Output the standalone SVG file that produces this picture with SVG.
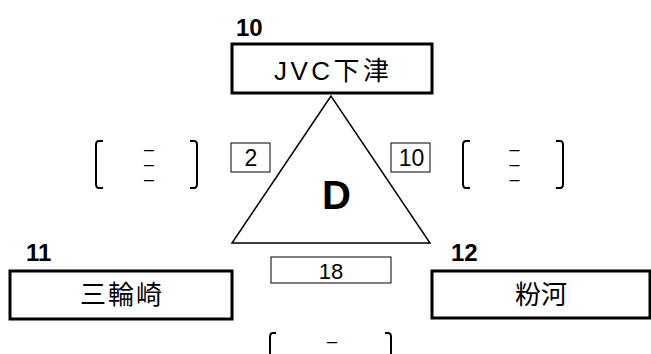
<svg xmlns="http://www.w3.org/2000/svg" width="651" height="354" viewBox="0 0 651 354">
<style>
.box{fill:#fff;stroke:#000;stroke-width:3}
.sbox{fill:#fff;stroke:#000;stroke-width:1}
.t{font-family:"Liberation Sans","Noto Sans CJK JP",sans-serif;fill:#000}
.num{font-family:"Liberation Sans","Noto Sans CJK JP",sans-serif;font-weight:bold;font-size:24px;fill:#000}
.br{fill:none;stroke:#000;stroke-width:2}
.dash{font-family:"Liberation Sans",sans-serif;font-size:10px;font-weight:bold;fill:#000;text-anchor:middle}
</style>
<rect width="651" height="354" fill="#fff"/>
<g id="triangle">
<polygon points="331,96 232,243 430,243" fill="#fff" stroke="#000" stroke-width="1.5"/>
<text class="t" x="336.5" y="209" font-size="40" font-weight="bold" text-anchor="middle">D</text>
</g>
<g id="node10">
<rect class="box" x="232" y="44" width="200" height="49"/>
<text class="num" x="236" y="36">10</text>
<text class="t" x="274" y="80" font-size="26" textLength="115" lengthAdjust="spacing">JVC下津</text>
</g>
<g id="node11">
<rect class="box" x="10" y="271" width="222" height="48"/>
<text class="num" x="26" y="261">11</text>
<text class="t" x="80" y="304" font-size="26" textLength="82" lengthAdjust="spacing">三輪崎</text>
</g>
<g id="node12">
<rect class="box" x="432" y="271" width="218" height="47"/>
<text class="num" x="451" y="261">12</text>
<text class="t" x="515" y="304" font-size="26" textLength="52" lengthAdjust="spacing">粉河</text>
</g>
<g id="connectors">
<g id="label2">
<rect class="sbox" x="231" y="143" width="39" height="29"/>
<text class="t" x="251" y="166" font-size="23" text-anchor="middle">2</text>
</g>
<g id="label10">
<rect class="sbox" x="391" y="143" width="39" height="29"/>
<text class="t" x="411.5" y="166" font-size="23" text-anchor="middle">10</text>
</g>
<g id="label18">
<rect class="sbox" x="271" y="257" width="120" height="26"/>
<text class="t" x="331" y="279" font-size="22" text-anchor="middle">18</text>
</g>
</g>
<g id="bracket-left">
<path class="br" d="M103,141 H99 Q96,141 96,145 V184 Q96,188 99,188 H103"/>
<path class="br" d="M190,141 H194 Q197,141 197,145 V184 Q197,188 194,188 H190"/>
<text class="dash" x="149" y="154">—</text>
<text class="dash" x="149" y="169">—</text>
<text class="dash" x="149" y="184">—</text>
</g>
<g id="bracket-right">
<path class="br" d="M470,141 H466 Q463,141 463,145 V184 Q463,188 466,188 H470"/>
<path class="br" d="M556,141 H560 Q563,141 563,145 V184 Q563,188 560,188 H556"/>
<text class="dash" x="514.5" y="154">—</text>
<text class="dash" x="514.5" y="169">—</text>
<text class="dash" x="514.5" y="184">—</text>
</g>
<g id="bracket-bottom">
<path class="br" d="M276,333 H273 Q270,333 270,337 V354"/>
<path class="br" d="M385,333 H388 Q391,333 391,337 V354"/>
<text class="dash" x="332" y="346">—</text>
</g>
</svg>
